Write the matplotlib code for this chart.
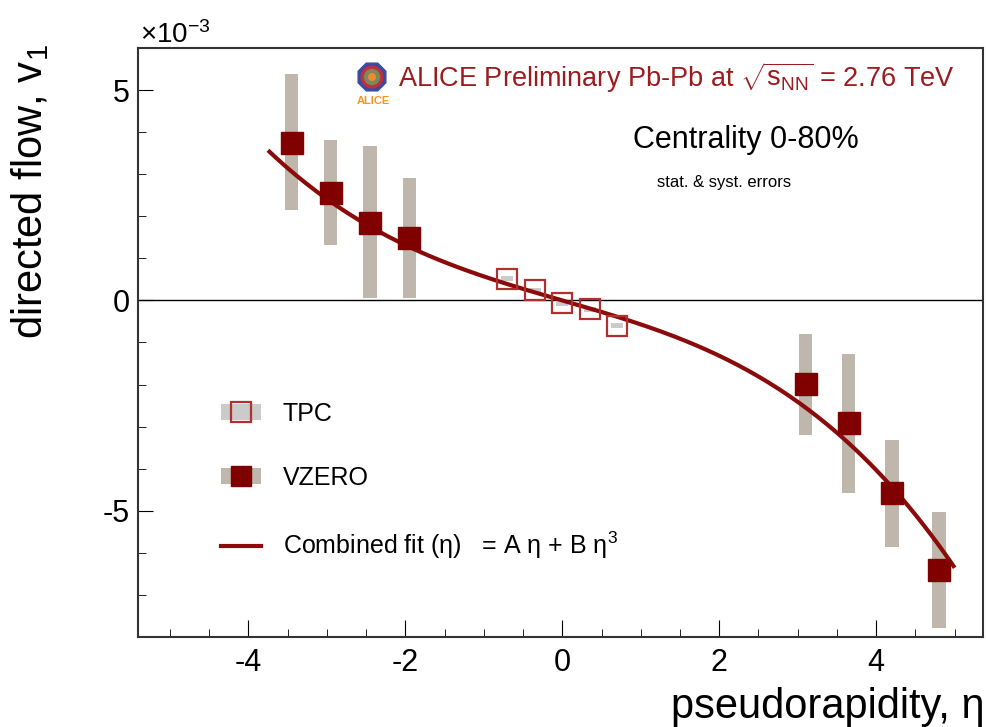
import numpy as np
import matplotlib
matplotlib.use("Agg")
import matplotlib.pyplot as plt
from matplotlib.patches import Patch, RegularPolygon, Circle
from matplotlib.lines import Line2D
from matplotlib.ticker import MultipleLocator

plt.rcParams['font.family'] = ['Liberation Sans', 'DejaVu Sans']
plt.rcParams['mathtext.fontset'] = 'custom'
plt.rcParams['mathtext.rm'] = 'Liberation Sans'
plt.rcParams['mathtext.it'] = 'Liberation Sans'
plt.rcParams['axes.unicode_minus'] = False

# VZERO points (v1 in units of 1e-3), combined stat+syst band
vzero_eta = [-3.45, -2.95, -2.45, -1.95, 3.1, 3.65, 4.2, 4.8]
vzero_v1 = [3.75, 2.56, 1.85, 1.48, -1.98, -2.92, -4.57, -6.40]
vzero_lo = [2.14, 1.32, 0.05, 0.05, -3.19, -4.57, -5.86, -7.79]
vzero_hi = [5.38, 3.81, 3.67, 2.92, -0.79, -1.27, -3.31, -5.02]

# TPC points
tpc_eta = [-0.7, -0.35, 0.0, 0.35, 0.7]
tpc_v1 = [0.52, 0.24, -0.07, -0.21, -0.60]
tpc_err = [0.06, 0.06, 0.06, 0.06, 0.06]

# combined fit v1 = A*eta + B*eta^3
fit_A = -0.541
fit_B = -0.0292
fit_range = (-3.75, 5.0)

red = '#800000'
fit_red = '#8b0a0a'
open_red = '#b03030'
band = '#bfb6ac'
tpc_band = '#cbcbcb'

fig = plt.figure(figsize=(9.87, 7.27), dpi=100)
ax = fig.add_axes([0.1403, 0.1238, 0.8556, 0.8102])

ax.axhline(0, color='black', lw=1.0, zorder=1)

lo = np.array(vzero_lo)
hi = np.array(vzero_hi)
ax.bar(vzero_eta, hi - lo, bottom=lo, width=0.17, color=band, zorder=2)
terr = np.array(tpc_err)
ax.bar(tpc_eta, 2 * terr, bottom=np.array(tpc_v1) - terr, width=0.15,
       color=tpc_band, zorder=2)

eta = np.linspace(fit_range[0], fit_range[1], 200)
ax.plot(eta, fit_A * eta + fit_B * eta ** 3, color=fit_red, lw=3, zorder=3,
        solid_capstyle='butt')

ax.plot(vzero_eta, vzero_v1, 's', color=red, ms=16, mec=red, zorder=4)
ax.plot(tpc_eta, tpc_v1, 's', mfc='none', mec=open_red, mew=1.6, ms=15, zorder=4)

ax.set_xlim(-5.4, 5.36)
ax.set_ylim(-8, 6)
ax.xaxis.set_major_locator(MultipleLocator(2))
ax.xaxis.set_minor_locator(MultipleLocator(0.5))
ax.yaxis.set_major_locator(MultipleLocator(5))
ax.yaxis.set_minor_locator(MultipleLocator(1))
ax.tick_params(which='both', direction='in', labelsize=22, top=False, right=False)
ax.tick_params(axis='x', which='major', length=12, pad=8)
ax.tick_params(axis='x', which='minor', length=6)
ax.tick_params(axis='y', which='major', length=11, pad=6)
ax.tick_params(axis='y', which='minor', length=6)
for s in ax.spines.values():
    s.set_linewidth(1.5)
    s.set_color('#333333')

fig.text(985 / 987, 0.012, 'pseudorapidity, η', fontsize=30, ha='right', va='baseline')
fig.text(0.031, 1 - 44 / 727, 'directed flow, v$_1$', fontsize=30, rotation=90,
         ha='center', va='top')
fig.text(140 / 987, 1 - 43 / 727, '×10$^{-3}$', fontsize=20, ha='left', va='baseline')

fig.text(398 / 987, 1 - 87 / 727,
         'ALICE Preliminary Pb-Pb at $\\sqrt{\\mathrm{s}_{\\mathrm{NN}}}$ = 2.76 TeV',
         fontsize=19.5, color='#9b1b1f', ha='left', va='baseline')
fig.text(746 / 987, 1 - 140 / 727, 'Centrality 0-80%', fontsize=22,
         ha='center', va='center')
fig.text(724 / 987, 1 - 183 / 727, 'stat. & syst. errors', fontsize=12,
         ha='center', va='center')

# small ALICE logo
lax = fig.add_axes([357 / 987, 1 - 92 / 727, 30 / 987, 30 / 727])
lax.set_xlim(-1, 1)
lax.set_ylim(-1, 1)
lax.set_aspect('equal')
lax.axis('off')
lax.add_patch(RegularPolygon((0, 0), 8, radius=1.0, orientation=np.pi / 8,
                             color='#3b4aa0'))
lax.add_patch(Circle((0, 0), 0.72, color='#c0303a'))
lax.add_patch(Circle((0, 0), 0.5, color='#7a8a5a'))
lax.add_patch(Circle((0, 0), 0.22, color='#f08a30'))
fig.text(373 / 987, 1 - 101 / 727, 'ALICE', fontsize=8, fontweight='bold',
         color='#f7941d', ha='center', va='center')

handles = [
    (Patch(facecolor=tpc_band, edgecolor='none'),
     Line2D([], [], marker='s', ls='none', mfc='none', mec=open_red, mew=1.6, ms=15)),
    (Patch(facecolor=band, edgecolor='none'),
     Line2D([], [], marker='s', ls='none', color=red, ms=15)),
    Line2D([], [], color=fit_red, lw=3),
]
labels = ['TPC', 'VZERO', 'Combined fit (η)   = A η + B η$^{3}$']
ax.legend(handles, labels, loc='upper left', bbox_to_anchor=(0.0715, 0.438),
          frameon=False, fontsize=18, handlelength=1.6, handleheight=0.6,
          labelspacing=1.6, handletextpad=0.85)

fig.savefig('out.png', dpi=100)
